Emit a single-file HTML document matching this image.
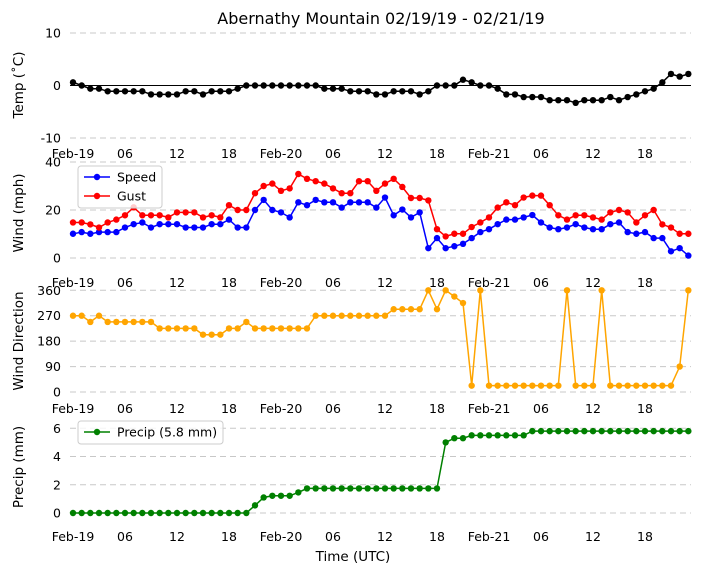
<!DOCTYPE html>
<html><head><meta charset="utf-8"><style>
html,body{margin:0;padding:0;background:#fff}
svg{display:block;font-family:"DejaVu Sans","Liberation Sans",sans-serif}
</style></head><body>
<svg id="chart" width="704" height="573" viewBox="0 0 704 573">
<text x="381" y="24" text-anchor="middle" font-size="16">Abernathy Mountain 02/19/19 - 02/21/19</text>
<g id="panels"></g>
<text x="353" y="561" text-anchor="middle" font-size="13.5">Time (UTC)</text>
</svg>
<script>
const temp=[0.6,0,-0.6,-0.6,-1.1,-1.1,-1.1,-1.1,-1.1,-1.7,-1.7,-1.7,-1.7,-1.1,-1.1,-1.7,-1.1,-1.1,-1.1,-0.6,0,0,0,0,0,0,0,0,0,-0.6,-0.6,-0.6,-1.1,-1.1,-1.1,-1.7,-1.7,-1.1,-1.1,-1.1,-1.7,-1.1,0,0,0,1.1,0.6,0,0,-0.6,-1.7,-1.7,-2.2,-2.2,-2.2,-2.8,-2.8,-2.8,-3.3,-2.8,-2.8,-2.8,-2.2,-2.8,-2.2,-1.7,-1.1,-0.6,0.6,2.2,1.7,2.2];
const speed=[10.1,10.8,10.1,10.8,10.8,10.8,12.7,14.1,14.8,12.7,14.1,14.1,14.1,12.7,12.7,12.7,14.1,14.1,16,12.7,12.7,20,24.2,20,19,16.9,23.2,22,24.2,23.2,23.2,21,23.2,23.2,23.2,21,25.2,17.8,20.2,16.9,19,4.1,8.3,4.1,4.9,5.9,8.3,10.8,12,14.1,16,16,16.9,17.9,14.8,12.7,12,12.7,14.1,12.7,12,12,14.1,14.8,10.8,10.1,10.8,8.3,8.3,2.8,4.1,1];
const gust=[14.8,14.8,14,12.7,14.8,16,17.8,21.1,17.8,17.8,17.8,16.9,19,19,19,16.9,17.8,16.9,22,20,20,27,30,31,28,29,35,33,32,31,29,27,27,32,32,28,31,33,29.6,25,25,24,12,9,10.1,10.1,12.9,14.8,16.9,21,23.2,22,25.2,26,26,22,17.8,16,17.8,17.8,16.9,16,19,20,19,14.8,17.8,20,14,12.7,10.1,10.1];
const dir=[270,270,248,270,248,248,248,248,248,248,225,225,225,225,225,203,203,203,225,225,248,225,225,225,225,225,225,225,270,270,270,270,270,270,270,270,270,293,293,293,293,360,293,360,338,315,22.5,360,22.5,22.5,22.5,22.5,22.5,22.5,22.5,22.5,22.5,360,22.5,22.5,22.5,360,22.5,22.5,22.5,22.5,22.5,22.5,22.5,22.5,90,360];
const precip=[0,0,0,0,0,0,0,0,0,0,0,0,0,0,0,0,0,0,0,0,0,0.54,1.1,1.22,1.22,1.22,1.46,1.74,1.74,1.74,1.74,1.74,1.74,1.74,1.74,1.74,1.74,1.74,1.74,1.74,1.74,1.74,1.74,5.0,5.3,5.3,5.5,5.5,5.5,5.5,5.5,5.5,5.5,5.8,5.8,5.8,5.8,5.8,5.8,5.8,5.8,5.8,5.8,5.8,5.8,5.8,5.8,5.8,5.8,5.8,5.8,5.8];
const xTickHours=[0,6,12,18,24,30,36,42,48,54,60,66];
const xTickLabels=["Feb-19","06","12","18","Feb-20","06","12","18","Feb-21","06","12","18"];
const tempTicks=[10,0,-10];
const windTicks=[40,20,0];
const dirTicks=[360,270,180,90,0];
const precipTicks=[6,4,2,0];

const NS="http://www.w3.org/2000/svg";
const root=document.getElementById('panels');
const X=h=>73+h*(208/24);
function el(tag,attrs,parent){const e=document.createElementNS(NS,tag);for(const k in attrs)e.setAttribute(k,attrs[k]);(parent||root).appendChild(e);return e;}
function panel(name,ymax,ymin,top,bot,ticks,ylabel,labelY,gridTicks,xlabY){
  const Y=v=>top+(ymax-v)/(ymax-ymin)*(bot-top);
  const g=el('g',{});
  
  
  ticks.forEach(t=>{
    if(gridTicks.includes(t)){
      const l=el('line',{x1:70,x2:691,y1:Y(t),y2:Y(t),stroke:'#c8c8c8','stroke-dasharray':'6,4','stroke-width':1},g);
      
      
    }
    const tx=el('text',{x:61,y:Y(t)+4.5,'text-anchor':'end','font-size':12.5},g);
    tx.textContent=t;
    
    
  });
  const yl=el('text',{transform:`translate(23,${labelY}) rotate(-90)`,'text-anchor':'middle','font-size':13.5},g);
  yl.textContent=ylabel;
  
  
  xTickHours.forEach((h,i)=>{
    const tx=el('text',{x:X(h),y:xlabY,'text-anchor':'middle','font-size':12.5},g);
    tx.textContent=xTickLabels[i];
    
    
  });
  return {Y,g};
}
function series(p,data,color,name){
  const pts=data.map((v,i)=>X(i).toFixed(1)+','+p.Y(v).toFixed(1)).join(' ');
  const pl=el('polyline',{points:pts,fill:'none',stroke:color,'stroke-width':1.5},p.g);
  
  
  data.forEach((v,i)=>{
    const c=el('circle',{cx:X(i),cy:p.Y(v),r:3.2,fill:color},p.g);
    
    
  });
}
const p1=panel('temp',10,-10,33,138,tempTicks,'Temp (˚C)',85,[10,-10],158);
const zl=el('line',{x1:70,x2:691,y1:p1.Y(0),y2:p1.Y(0),stroke:'#000','stroke-width':1},p1.g);


series(p1,temp,'#000','temp');
const p2=panel('wind',40,0,162,258,windTicks,'Wind (mph)',213,windTicks,287);
series(p2,speed,'#0000ff','speed');
series(p2,gust,'#ff0000','gust');
const p3=panel('direction',360,0,290.3,392,dirTicks,'Wind Direction',341,dirTicks,413);
series(p3,dir,'#ffa500','direction');
const p4=panel('precip',6,0,428.3,513,precipTicks,'Precip (mm)',467,precipTicks,541);
series(p4,precip,'#008000','precip');
function legend(x,y,w,h,items,name){
  const g=el('g',{});
  
  
  el('rect',{x,y,width:w,height:h,rx:3,fill:'rgba(255,255,255,0.8)',stroke:'#ccc'},g);
  items.forEach((it,i)=>{
    const cy=y+11+i*19;
    el('line',{x1:x+6,x2:x+32,y1:cy,y2:cy,stroke:it[1],'stroke-width':1.5},g);
    el('circle',{cx:x+19,cy,r:3.2,fill:it[1]},g);
    const t=el('text',{x:x+39,y:cy+4.5,'font-size':12.5},g);
    t.textContent=it[0];
    
    
  });
}
legend(78,166,84,42,[['Speed','#0000ff'],['Gust','#ff0000']],'wind-legend');
legend(78,421,145,23,[['Precip (5.8 mm)','#008000']],'precip-legend');
</script>
</body></html>
